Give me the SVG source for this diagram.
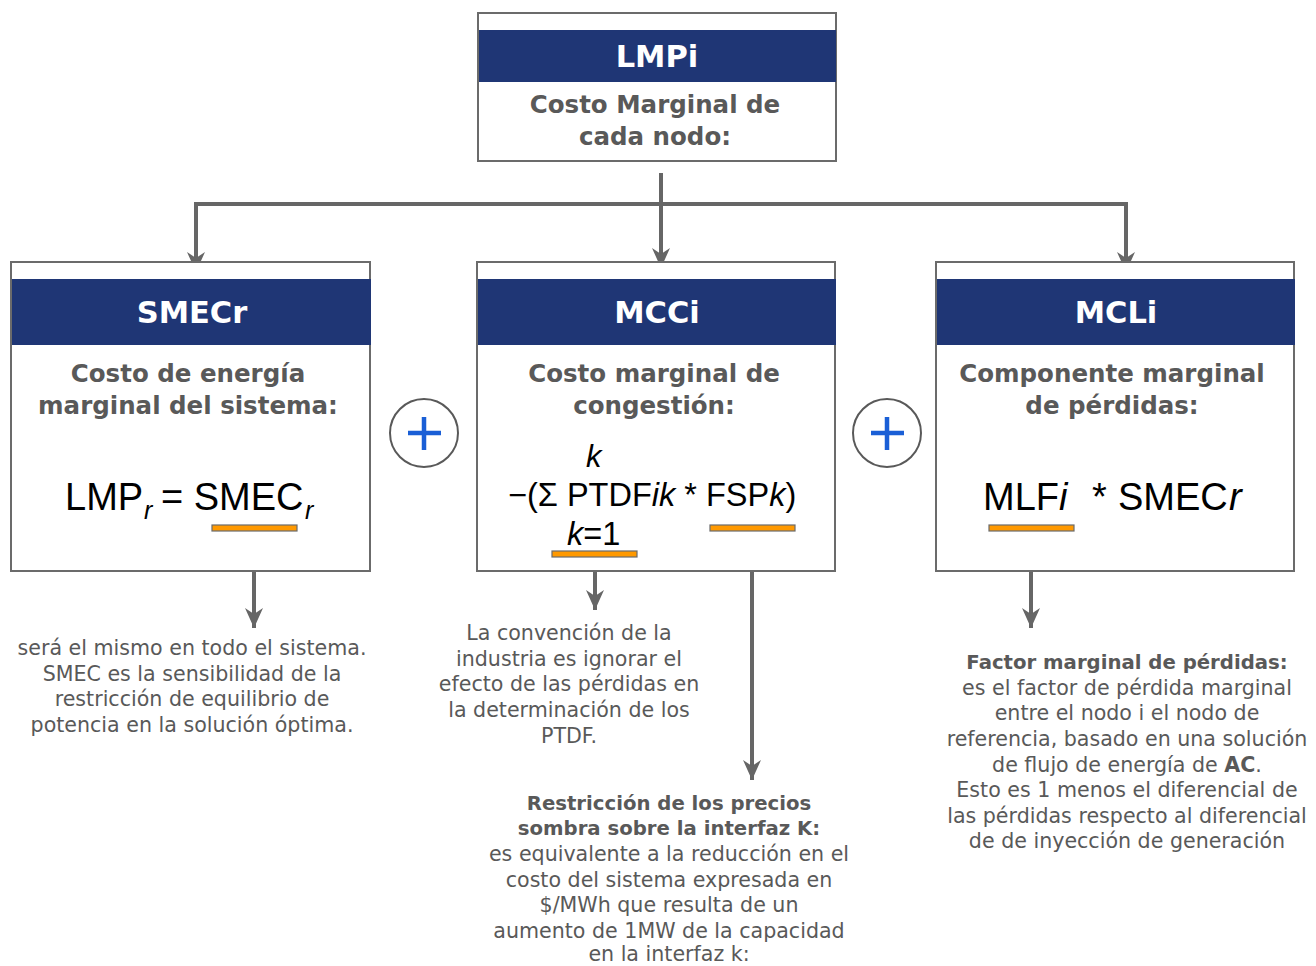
<svg xmlns="http://www.w3.org/2000/svg" width="1316" height="966" viewBox="0 0 1316 966">
<style>
.box{fill:#fff;stroke:#6b6b6b;stroke-width:2}
.hdr{fill:#1f3675}
.ht{font-family:"DejaVu Sans","Open Sans",sans-serif;font-weight:700;font-size:30.5px;fill:#fff;text-anchor:middle}
.st{font-family:"DejaVu Sans","Open Sans",sans-serif;font-weight:700;font-size:24.5px;fill:#595959;text-anchor:middle}
.fx{font-family:"Liberation Sans",Arial,sans-serif;font-size:38px;fill:#000}
.bar{fill:#ff9900;stroke:#6b6b6b;stroke-width:1.2}
.con{fill:none;stroke:#666;stroke-width:4}
.note{font-family:"DejaVu Sans","Open Sans",sans-serif;font-size:20.6px;fill:#595959;text-anchor:middle}
.b{font-weight:700;font-size:19.7px}
.plus circle{fill:#fff;stroke:#595959;stroke-width:2}
.plus path{stroke:#1a5fd6;stroke-width:4.5;fill:none}
</style>
<defs>
<marker id="ah" markerUnits="userSpaceOnUse" markerWidth="22" markerHeight="18" refX="20" refY="9" orient="auto">
<path d="M0,0 L20,9 L0,18 L6,9 Z" fill="#666"/>
</marker>
</defs>
<rect width="1316" height="966" fill="#fff"/>

<g id="connectors">
<path class="con" d="M661,173 V268" marker-end="url(#ah)"/>
<path class="con" d="M661,204 H196 V272" marker-end="url(#ah)"/>
<path class="con" d="M661,204 H1126 V272" marker-end="url(#ah)"/>
<path class="con" d="M254,531 V628" marker-end="url(#ah)"/>
<path class="con" d="M595,557 V610" marker-end="url(#ah)"/>
<path class="con" d="M752,531 V780" marker-end="url(#ah)"/>
<path class="con" d="M1031,531 V628" marker-end="url(#ah)"/>
</g>

<g id="lmpi">
<rect class="box" x="478" y="13" width="358" height="148"/>
<rect class="hdr" x="479" y="30" width="357" height="52"/>
<text class="ht" x="657" y="67">LMPi</text>
<text class="st" x="655" y="113">Costo Marginal de</text>
<text class="st" x="655" y="145">cada nodo:</text>
</g>

<g id="smecr">
<rect class="box" x="11" y="262" width="359" height="309"/>
<rect class="hdr" x="12" y="279" width="359" height="66"/>
<text class="ht" x="192" y="323">SMECr</text>
<text class="st" x="188" y="382">Costo de energía</text>
<text class="st" x="188" y="414">marginal del sistema:</text>
<text class="fx" y="510"><tspan x="65">LMP</tspan><tspan x="144" font-style="italic" font-size="25" dy="9">r</tspan><tspan x="161" dy="-9">= SMEC</tspan><tspan x="305" font-style="italic" font-size="25" dy="9">r</tspan></text>
<rect class="bar" x="212" y="525" width="85" height="6"/>
</g>

<g id="plus1" class="plus">
<circle cx="424" cy="433" r="34"/>
<path d="M408,433 H441 M424,417 V450"/>
</g>

<g id="mcci">
<rect class="box" x="477" y="262" width="358" height="309"/>
<rect class="hdr" x="478" y="279" width="358" height="66"/>
<text class="ht" x="657" y="323">MCCi</text>
<text class="st" x="654" y="382">Costo marginal de</text>
<text class="st" x="654" y="414">congestión:</text>
<text class="fx" x="586" y="467" font-style="italic" style="font-size:31px">k</text>
<text class="fx" x="508" y="506" style="font-size:32.5px">−(Σ PTDF<tspan font-style="italic">ik</tspan> * FSP<tspan font-style="italic">k</tspan>)</text>
<text class="fx" x="567" y="545" style="font-size:32.5px"><tspan font-style="italic">k</tspan>=1</text>
<rect class="bar" x="552" y="551" width="85" height="6"/>
<rect class="bar" x="710" y="525" width="85" height="6"/>
</g>

<g id="plus2" class="plus">
<circle cx="887" cy="433" r="34"/>
<path d="M871,433 H904 M887,417 V450"/>
</g>

<g id="mcli">
<rect class="box" x="936" y="262" width="358" height="309"/>
<rect class="hdr" x="937" y="279" width="358" height="66"/>
<text class="ht" x="1116" y="323">MCLi</text>
<text class="st" x="1112" y="382">Componente marginal</text>
<text class="st" x="1112" y="414">de pérdidas:</text>
<text class="fx" y="510"><tspan x="983">MLF</tspan><tspan x="1059" font-style="italic">i</tspan><tspan x="1092">*</tspan><tspan x="1118">SMEC</tspan><tspan x="1229" font-style="italic">r</tspan></text>
<rect class="bar" x="989" y="525" width="85" height="6"/>
</g>

<g id="note-smec">
<text class="note" x="192" y="655">será el mismo en todo el sistema.</text>
<text class="note" x="192" y="681">SMEC es la sensibilidad de la</text>
<text class="note" x="192" y="706">restricción de equilibrio de</text>
<text class="note" x="192" y="732">potencia en la solución óptima.</text>
</g>

<g id="note-ptdf">
<text class="note" x="569" y="640">La convención de la</text>
<text class="note" x="569" y="666">industria es ignorar el</text>
<text class="note" x="569" y="691">efecto de las pérdidas en</text>
<text class="note" x="569" y="717">la determinación de los</text>
<text class="note" x="569" y="743">PTDF.</text>
</g>

<g id="note-fsp">
<text class="note b" x="669" y="810">Restricción de los precios</text>
<text class="note b" x="669" y="835">sombra sobre la interfaz K:</text>
<text class="note" x="669" y="861">es equivalente a la reducción en el</text>
<text class="note" x="669" y="887">costo del sistema expresada en</text>
<text class="note" x="669" y="912">$/MWh que resulta de un</text>
<text class="note" x="669" y="938">aumento de 1MW de la capacidad</text>
<text class="note" x="669" y="961">en la interfaz k:</text>
</g>

<g id="note-mlf">
<text class="note b" x="1127" y="669">Factor marginal de pérdidas:</text>
<text class="note" x="1127" y="695">es el factor de pérdida marginal</text>
<text class="note" x="1127" y="720">entre el nodo i el nodo  de</text>
<text class="note" x="1127" y="746">referencia, basado en una solución</text>
<text class="note" x="1127" y="772">de flujo de energía de <tspan font-weight="700">AC</tspan>.</text>
<text class="note" x="1127" y="797">Esto es 1 menos el diferencial de</text>
<text class="note" x="1127" y="823">las pérdidas respecto al diferencial</text>
<text class="note" x="1127" y="848">de de inyección de generación</text>
</g>
</svg>
